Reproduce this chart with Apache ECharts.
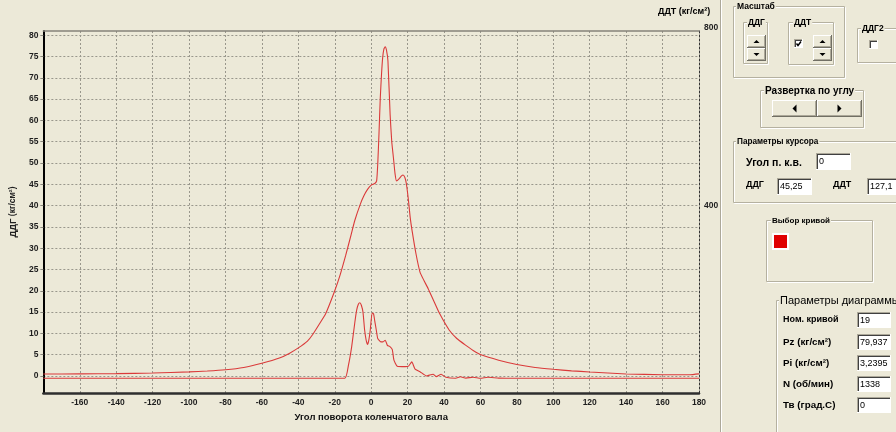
<!DOCTYPE html>
<html><head><meta charset="utf-8">
<script src="https://cdn.jsdelivr.net/npm/echarts@6/dist/echarts.min.js"></script>
<style>html,body{margin:0;padding:0;background:#ECE9D8;}#c{width:896px;height:432px;}</style>
</head><body><div id="c"></div>
<script>
// ---- data ----
const ddgAngles = [-180,-160,-140,-120,-100,-90,-80,-70,-60,-50,-45,-40,-35,-32,-28,-25,-20,-17,-14,-11,-9,-6,-4,-2,0,2,3,3.6,4.3,5,5.7,6.3,7,7.7,8.4,9.2,10.4,11.3,12.2,13.1,13.9,15.3,16.5,17.5,18.5,19.3,20.4,21.4,22.5,24.6,26.8,29,31.3,34.5,37.5,42.8,47,51.8,56,60.7,70,80,90,100,110,120,140,160,175,180];
const ddgValues = [0.45,0.5,0.55,0.7,0.95,1.15,1.45,2.0,3.0,4.3,5.3,6.6,8.2,9.8,12.5,14.6,20.0,23.8,28.3,33.2,36.5,40.3,42.3,43.8,44.8,45.2,45.8,49.7,57,65.3,71,74.7,76.8,77.3,76.5,74,61.4,55,51.3,47.5,45.8,46.3,46.9,47.2,46.6,45.2,41.5,37.3,34,28.7,24.4,22.4,20.5,17.5,14.7,10.8,8.8,7.25,6,4.9,3.7,2.7,2.0,1.56,1.2,0.94,0.47,0.3,0.3,0.5];
const ddtAngles = [-180,-14.5,-12.5,-10.7,-9,-8,-7,-6.2,-5.4,-4.5,-3.6,-2.8,-2.1,-1.4,-0.5,0.5,1.3,2,2.8,3.6,5.3,6.5,7.7,8.9,10.3,11.6,12.5,14.3,18.7,20.5,22.3,24.1,26.8,30.4,32,34,35.7,38.4,41,46.4,49,52,56,60,64,70,80,180];
const ddtValues = [-5.5,-5.5,25,69,125,154,169,172,166,150,108,85,74,82,108,148,146,128,108,88,80,80,84,72,69,62,37,23,22,23,33,16,10,0,2,4,-1.5,4,-3,-5.5,-2,-5,-3,-5.5,-3,-5,-5.5,-5.5];
const leftTickLabels = [0,5,10,15,20,25,30,35,40,45,50,55,60,65,70,75,80];
const rightTickLabels = [400,800];
const xAxisTitle = 'Угол поворота коленчатого вала';
const leftAxisTitle = '{b|ДДГ} (кг/см²)';
const rightAxisTitle = 'ДДТ (кг/см²)';
const cursorLabels = ['Угол п. к.в.','ДДГ','ДДТ'];
const cursorValues = ['0','45,25','127,1'];
const paramLabels = ['Ном. кривой','Pz (кг/см²)','Pi (кг/см²)','N (об/мин)','Тв (град.С)'];
const paramValues = ['19','79,937','3,2395','1338','0'];

// ---- panel drawing helpers ----
const BG = '#ECE9D8';
const FONT = '"Liberation Sans", Arial, sans-serif';
const g = [];
function line(x1,y1,x2,y2,c,w){g.push({type:'line',silent:true,shape:{x1,y1,x2,y2},style:{stroke:c,lineWidth:w||1}});}
function rect(x,y,w,h,fill,stroke){g.push({type:'rect',silent:true,shape:{x,y,width:w,height:h},style:{fill:fill||'none',stroke:stroke||null,lineWidth:1}});}
function text(x,y,t,size,bold,extra){g.push({type:'text',silent:true,x,y,z:10,style:Object.assign({text:t,fontSize:size,fontWeight:bold?'bold':'normal',fontFamily:FONT,fill:'#000',verticalAlign:'middle',align:'left'},extra||{})});}
function groupBox(x,y,w,h,title,size,bold,tx){
  rect(x+1.5,y+1.5,w-1,h-1,null,'#FFFFFF');
  rect(x+0.5,y+0.5,w-1,h-1,null,'#B5B1A0');
  if(title) text(tx,y+1,title,size,bold,{backgroundColor:BG,padding:[0,1]});
}
function button(x,y,w,h,dir,s){
  s = s||3;
  rect(x,y,w,h,BG,null);
  line(x+0.5,y,x+0.5,y+h,'#FFFFFF'); line(x,y+0.5,x+w,y+0.5,'#FFFFFF');
  line(x,y+h-0.5,x+w,y+h-0.5,'#716F64'); line(x+w-0.5,y,x+w-0.5,y+h,'#716F64');
  line(x+1,y+h-1.5,x+w-1,y+h-1.5,'#ACA899'); line(x+w-1.5,y+1,x+w-1.5,y+h-1,'#ACA899');
  const cx=x+w/2, cy=y+h/2; let p;
  if(dir==='up') p=[[cx-s,cy+s/2],[cx+s,cy+s/2],[cx,cy-s/2]];
  else if(dir==='down') p=[[cx-s,cy-s/2],[cx+s,cy-s/2],[cx,cy+s/2]];
  else if(dir==='left') p=[[cx+s/2,cy-s],[cx+s/2,cy+s],[cx-s/2,cy]];
  else p=[[cx-s/2,cy-s],[cx-s/2,cy+s],[cx+s/2,cy]];
  g.push({type:'polygon',silent:true,shape:{points:p},style:{fill:'#000'}});
}
function textBox(x,y,w,h,val){
  rect(x,y,w,h,'#FFFFFF',null);
  line(x+0.5,y,x+0.5,y+h,'#ACA899'); line(x,y+0.5,x+w,y+0.5,'#ACA899');
  line(x+1.5,y+1,x+1.5,y+h-1,'#404040'); line(x+1,y+1.5,x+w-1,y+1.5,'#404040');
  line(x,y+h-0.5,x+w,y+h-0.5,'#FFFFFF'); line(x+w-0.5,y,x+w-0.5,y+h,'#FFFFFF');
  text(x+3,y+h/2+0.5,val,9,false);
}
function checkbox(x,y,checked){
  textBox(x,y,9,9,'');
  if(checked) g.push({type:'polyline',silent:true,z:11,shape:{points:[[x+2.5,y+4.5],[x+4,y+6.5],[x+7,y+2.5]]},style:{stroke:'#000',lineWidth:1.4,fill:null}});
}

// separator
line(720.5,0,720.5,432,'#ACA899'); line(721.5,0,721.5,432,'#FFFFFF');
// Масштаб
groupBox(733,6,112,72,'Масштаб',8.5,true,736);
groupBox(743,22,25,42,'ДДГ',8.5,true,747);
button(747,35,19,13,'up'); button(747,48,19,13,'down');
groupBox(788,22,46,43,'ДДТ',8.5,true,793);
checkbox(794,39,true);
button(813,35,19,13,'up'); button(813,48,19,13,'down');
groupBox(857,28,45,35,'ДДГ2',8.5,true,861);
checkbox(869,40,false);
// Развертка
groupBox(760,90,104,38,'Развертка по углу',10,true,764);
button(772,100,45,17,'left',4); button(817,100,45,17,'right',4);
// Параметры курсора
groupBox(733,141,170,62,'Параметры курсора',8.2,true,736);
text(746,163,cursorLabels[0],10.5,true); textBox(816,153,35,17,cursorValues[0]);
text(746,185,cursorLabels[1],9,true); textBox(777,178,35,17,cursorValues[1]);
text(833,185,cursorLabels[2],9,true); textBox(867,178,35,17,cursorValues[2]);
// Выбор кривой
groupBox(766,220,107,62,'Выбор кривой',8,true,771);
rect(772,233,17,17,'#FFFFFF',null); rect(774,235,13,13,'#E00000',null);
// Параметры диаграммы
groupBox(776,300,130,140,'Параметры диаграммы',11,false,779);
const pTops=[312,334,355,376,397];
paramLabels.forEach((l,i)=>{ text(783,pTops[i]+8,l,i===0?9:9.8,true); textBox(857,pTops[i],34,16,paramValues[i]); });
// right axis title
text(658,12,rightAxisTitle,9,true);

const axisFontBold = {fontFamily:FONT,fontWeight:'bold',fontSize:8.5,color:'#1e1e1e'};
const gridLine = {show:true,lineStyle:{color:'#99978c',type:[2,2],width:1}};

const chart = echarts.init(document.getElementById('c'),null,{renderer:'canvas'});
chart.setOption({
  backgroundColor: BG,
  animation:false,
  textStyle:{fontFamily:FONT},
  grid:{left:26,right:197,top:31,bottom:39,containLabel:false},
  xAxis:[
    {type:'value',min:-180,max:180,interval:20,position:'bottom',
     name:xAxisTitle,nameLocation:'middle',nameGap:15,
     nameTextStyle:{fontFamily:FONT,fontWeight:'bold',fontSize:9.5,color:'#111'},
     axisLine:{onZero:false,lineStyle:{color:'#2e2e2e',width:2.5}},
     axisTick:{show:false},
     axisLabel:Object.assign({showMinLabel:false,margin:5},axisFontBold),
     splitLine:gridLine},
    {type:'value',min:-180,max:180,position:'top',
     axisLine:{onZero:false,lineStyle:{color:'#85837a',width:1.5}},
     axisTick:{show:false},axisLabel:{show:false},splitLine:{show:false}}
  ],
  yAxis:[
    {type:'value',min:-4,max:81,splitNumber:17,position:'left',
     name:leftAxisTitle,nameLocation:'middle',nameGap:15,nameRotate:90,
     nameTextStyle:{fontFamily:FONT,fontSize:8.5,fontWeight:'bold',color:'#222',rich:{b:{fontFamily:FONT,fontWeight:'bold',fontSize:9.5,color:'#222'}}},
     axisLine:{show:true,onZero:false,lineStyle:{color:'#000',width:2}},
     axisTick:{show:true,length:3,customValues:leftTickLabels,lineStyle:{color:'#8a887e'}},
     axisLabel:Object.assign({customValues:leftTickLabels,margin:5},axisFontBold),
     splitLine:gridLine},
    {type:'value',min:-40,max:810,position:'right',
     axisLine:{show:true,onZero:false,lineStyle:{color:'#333',type:[2,2],width:1}},
     axisTick:{show:false},splitLine:{show:false},
     axisLabel:Object.assign({customValues:rightTickLabels,margin:5,
       formatter:v=>v===800?'{t|800}':String(v),
       rich:{t:Object.assign({padding:[0,0,16,0]},axisFontBold)}},axisFontBold)}
  ],
  series:[
    {name:'ДДГ',type:'line',xAxisIndex:0,yAxisIndex:0,showSymbol:false,symbol:'none',smooth:0.15,
     lineStyle:{color:'#DA3A3A',width:1.1},data:ddgAngles.map((a,i)=>[a,ddgValues[i]])},
    {name:'ДДТ',type:'line',xAxisIndex:0,yAxisIndex:1,showSymbol:false,symbol:'none',smooth:0.15,
     lineStyle:{color:'#DA3A3A',width:1.1},data:ddtAngles.map((a,i)=>[a,ddtValues[i]])}
  ],
  graphic:{elements:g}
});
</script></body></html>
